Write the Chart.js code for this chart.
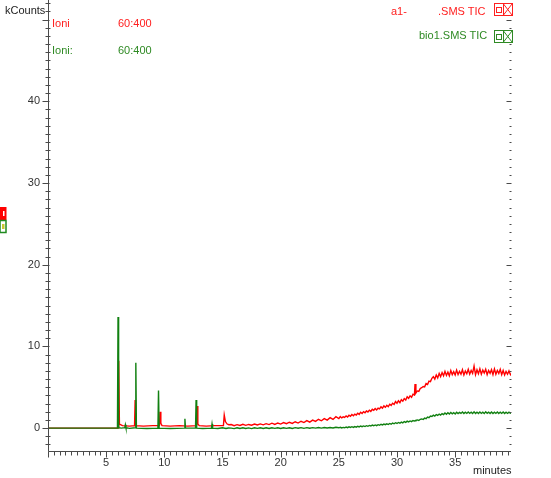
<!DOCTYPE html>
<html>
<head>
<meta charset="utf-8">
<script src="https://cdn.jsdelivr.net/npm/chart.js@4/dist/chart.umd.min.js"></script>
<style>
  html, body { margin: 0; padding: 0; background: #fff; }
  #wrap { position: relative; width: 551px; height: 478px; overflow: hidden; font-family: "Liberation Sans", Arial, sans-serif; font-size: 11px; }
  canvas { position: absolute; left: 0; top: 0; }
  .t { position: absolute; white-space: nowrap; line-height: 12px; }
  .red { color: #ff2020; }
  .grn { color: #2f8a24; }
</style>
</head>
<body>
<div id="wrap">
  <canvas id="c" width="551" height="478"></canvas>
  <div class="t" style="left:5px;top:4px;color:#222;">kCounts</div>
  <div class="t red" style="left:52px;top:17px;">Ioni</div>
  <div class="t red" style="left:118px;top:17px;">60:400</div>
  <div class="t grn" style="left:52px;top:44px;">Ioni:</div>
  <div class="t grn" style="left:118px;top:44px;">60:400</div>
  <div class="t red" style="left:391px;top:5px;">a1-</div>
  <div class="t red" style="left:438px;top:5px;">.SMS TIC</div>
  <div class="t grn" style="left:419px;top:29px;">bio1.SMS TIC</div>
  <div class="t" style="left:473px;top:464px;color:#222;">minutes</div>
  <svg style="position:absolute;left:493px;top:3px;" width="21" height="14">
    <rect x="1.5" y="0.5" width="18" height="12" fill="#fff" stroke="#ff2020"/>
    <rect x="3.5" y="4.5" width="5" height="5" fill="none" stroke="#ff2020"/>
    <line x1="10.5" y1="0.5" x2="10.5" y2="12.5" stroke="#ff2020"/>
    <line x1="10.5" y1="1" x2="19" y2="12" stroke="#ff2020"/>
    <line x1="19" y1="1" x2="10.5" y2="12" stroke="#ff2020"/>
  </svg>
  <svg style="position:absolute;left:493px;top:30px;" width="21" height="14">
    <rect x="1.5" y="0.5" width="18" height="12" fill="#fff" stroke="#2f8a24"/>
    <rect x="3.5" y="4.5" width="5" height="5" fill="none" stroke="#2f8a24"/>
    <line x1="10.5" y1="0.5" x2="10.5" y2="12.5" stroke="#2f8a24"/>
    <line x1="10.5" y1="1" x2="19" y2="12" stroke="#2f8a24"/>
    <line x1="19" y1="1" x2="10.5" y2="12" stroke="#2f8a24"/>
  </svg>
  <svg style="position:absolute;left:0px;top:207px;" width="8" height="28">
    <rect x="0" y="0" width="6.5" height="13" fill="#ff0000"/>
    <rect x="3" y="4" width="1.5" height="5" fill="#fff"/>
    <rect x="0" y="13.5" width="6" height="12" fill="#fff" stroke="#1f8a1f" stroke-width="1.5"/>
    <rect x="2" y="17" width="2.5" height="5" fill="#c8c832"/>
  </svg>
</div>
<script>
// ---------------- data ----------------
const greenEarlyTimes  = [0, 5.97, 6.02, 6.07, 6.3, 6.6, 6.65, 6.7, 7.0, 7.5, 7.55, 7.6, 8.5, 9.45, 9.5, 9.55, 10.5, 11.72, 11.77, 11.82, 12.68, 12.73, 12.78, 13.3, 14.05, 14.1, 14.15, 14.6, 15.0, 15.3, 15.5];
const greenEarlyValues = [0, 0, 13.6, 0.05, 0.0, 0.05, 0.4, 0.05, -0.03, 0.05, 8.0, 0.0, -0.05, 0.0, 4.6, 0.0, -0.05, 0.0, 1.15, 0.0, 0.0, 3.45, 0.0, -0.05, 0.0, 0.5, 0.0, -0.05, 0.05, -0.05, 0.02];

const redEarlyTimes  = [0, 6.03, 6.08, 6.14, 6.4, 7.0, 7.44, 7.49, 7.54, 8.2, 9.0, 9.58, 9.63, 9.7, 9.8, 10.5, 11.3, 12.0, 12.77, 12.82, 12.88, 13.0, 13.6, 14.3, 15.08, 15.15, 15.25, 15.4, 15.55];
const redEarlyValues = [0, 0, 8.25, 0.5, 0.3, 0.25, 0.3, 3.45, 0.3, 0.25, 0.3, 0.3, 2.0, 0.6, 0.3, 0.25, 0.3, 0.25, 0.3, 2.7, 0.5, 0.3, 0.25, 0.3, 0.3, 1.6, 0.8, 0.5, 0.42];

const lateTimes = [15.75, 16, 16.25, 16.5, 16.75, 17, 17.25, 17.5, 17.75, 18,
  18.25, 18.5, 18.75, 19, 19.25, 19.5, 19.75, 20, 20.25, 20.5,
  20.75, 21, 21.25, 21.5, 21.75, 22, 22.25, 22.5, 22.75, 23,
  23.25, 23.5, 23.75, 24, 24.25, 24.5, 24.75, 25,
  25.125, 25.25, 25.375, 25.5, 25.625, 25.75, 25.875, 26,
  26.125, 26.25, 26.375, 26.5, 26.625, 26.75, 26.875, 27,
  27.125, 27.25, 27.375, 27.5, 27.625, 27.75, 27.875, 28,
  28.125, 28.25, 28.375, 28.5, 28.625, 28.75, 28.875, 29,
  29.125, 29.25, 29.375, 29.5, 29.625, 29.75, 29.875, 30,
  30.125, 30.25, 30.375, 30.5, 30.625, 30.75, 30.875, 31,
  31.125, 31.25, 31.375, 31.5, 31.55, 31.625, 31.75, 31.875, 32,
  32.125, 32.25, 32.375, 32.5, 32.625, 32.75, 32.875, 33,
  33.125, 33.25, 33.375, 33.5, 33.625, 33.75, 33.875, 34,
  34.125, 34.25, 34.375, 34.5, 34.625, 34.75, 34.875, 35,
  35.125, 35.25, 35.375, 35.5, 35.625, 35.75, 35.875, 36,
  36.125, 36.25, 36.375, 36.5, 36.625, 36.75, 36.875, 37,
  37.125, 37.25, 37.375, 37.5, 37.625, 37.75, 37.875, 38,
  38.125, 38.25, 38.375, 38.5, 38.625, 38.75, 38.875, 39,
  39.125, 39.25, 39.375, 39.5, 39.625, 39.75, 39.8];

const redLateValues = [0.44, 0.30, 0.42, 0.33, 0.46, 0.34, 0.45, 0.36, 0.50, 0.38,
  0.52, 0.40, 0.55, 0.43, 0.60, 0.46, 0.63, 0.50, 0.68, 0.54,
  0.72, 0.58, 0.78, 0.62, 0.84, 0.68, 0.92, 0.74, 0.98, 0.82,
  1.08, 0.90, 1.16, 0.98, 1.28, 1.06, 1.40, 1.16,
  1.42, 1.25, 1.38, 1.30, 1.50, 1.36, 1.58, 1.45,
  1.66, 1.52, 1.72, 1.60, 1.82, 1.68, 1.95, 1.80,
  2.02, 1.88, 2.10, 1.98, 2.20, 2.05, 2.30, 2.18,
  2.40, 2.22, 2.45, 2.35, 2.60, 2.45, 2.72, 2.55,
  2.80, 2.62, 2.92, 2.78, 3.05, 2.90, 3.25, 3.05,
  3.35, 3.12, 3.48, 3.30, 3.62, 3.45, 3.85, 3.65,
  3.95, 3.78, 4.15, 4.05, 5.40, 4.30, 4.55, 4.50, 4.85,
  4.95, 5.10, 5.05, 5.45, 5.35, 5.75, 5.70, 6.10,
  6.30, 6.00, 6.50, 6.15, 6.70, 6.30, 6.80, 6.40,
  6.95, 6.45, 6.85, 6.40, 7.05, 6.55, 6.90, 6.50,
  7.10, 6.55, 6.95, 6.60, 7.15, 6.50, 7.00, 6.65,
  7.20, 6.60, 7.05, 6.70, 7.60, 6.55, 7.15, 6.65,
  7.25, 6.60, 7.10, 6.75, 7.20, 6.55, 7.05, 6.70,
  7.15, 6.55, 7.25, 6.60, 7.05, 6.70, 7.20, 6.55,
  7.05, 6.50, 6.95, 6.60, 7.00, 6.55, 6.70];

const greenLateValues = [0.00, -0.06, 0.04, -0.04, 0.05, -0.05, 0.03, -0.06, 0.04, -0.03,
  0.05, -0.04, 0.04, -0.05, 0.05, -0.03, 0.04, -0.04, 0.05, -0.03,
  0.05, -0.04, 0.06, -0.02, 0.06, -0.03, 0.06, -0.02, 0.06, 0.00,
  0.07, 0.00, 0.08, 0.01, 0.08, 0.02, 0.10, 0.04,
  0.10, 0.02, 0.09, 0.04, 0.13, 0.05, 0.15, 0.08,
  0.17, 0.09, 0.19, 0.12, 0.23, 0.15, 0.26, 0.18,
  0.27, 0.19, 0.30, 0.22, 0.33, 0.26, 0.37, 0.29,
  0.39, 0.30, 0.42, 0.35, 0.47, 0.39, 0.50, 0.42,
  0.53, 0.44, 0.57, 0.48, 0.62, 0.53, 0.66, 0.57,
  0.69, 0.60, 0.74, 0.64, 0.80, 0.70, 0.85, 0.76,
  0.88, 0.80, 0.93, 0.86, 0.90, 0.95, 1.00, 0.94, 1.08,
  1.12, 1.05, 1.22, 1.15, 1.35, 1.28, 1.48, 1.42,
  1.58, 1.48, 1.66, 1.55, 1.72, 1.60, 1.78, 1.66,
  1.85, 1.70, 1.88, 1.72, 1.92, 1.76, 1.90, 1.74,
  1.95, 1.78, 1.93, 1.80, 1.97, 1.78, 1.95, 1.80,
  1.98, 1.80, 1.95, 1.78, 2.00, 1.80, 1.96, 1.79,
  1.98, 1.80, 1.95, 1.78, 1.99, 1.81, 1.96, 1.78,
  1.97, 1.79, 1.95, 1.80, 1.98, 1.78, 1.96, 1.80,
  1.97, 1.79, 1.95, 1.80, 1.96, 1.82, 1.86];

const xTickLabels = [5, 10, 15, 20, 25, 30, 35];
const yTickLabels = [0, 10, 20, 30, 40];
const xRange = [0, 39.8];
const yRange = [-2.8, 52.4];
// ---------------------------------------------------------------

function pts(times, values) { return times.map((t, i) => ({ x: t, y: values[i] })); }
const greenData = pts(greenEarlyTimes, greenEarlyValues).concat(pts(lateTimes, greenLateValues));
const redData = pts(redEarlyTimes, redEarlyValues).concat(pts(lateTimes, redLateValues));

const axisPlugin = {
  id: 'axisTicks',
  afterDraw(chart) {
    const ctx = chart.ctx, xs = chart.scales.x, ys = chart.scales.y, ca = chart.chartArea;
    const L = Math.round(ca.left) + 0.5, B = Math.round(ca.bottom) + 0.5, R = Math.round(ca.right) - 0.5;
    ctx.save();
    ctx.strokeStyle = '#4a4a4a';
    ctx.lineWidth = 1;
    ctx.beginPath();
    ctx.moveTo(L, Math.round(ca.top)); ctx.lineTo(L, B);
    ctx.lineTo(Math.round(ca.right), B);
    ctx.stroke();
    ctx.beginPath();
    for (let v = -2; v <= 52; v++) {
      const y = Math.round(ys.getPixelForValue(v)) + 0.5;
      if (v % 10 === 0) { ctx.moveTo(L - 6, y); ctx.lineTo(L + 1, y); }
      else { ctx.moveTo(L - 3, y); ctx.lineTo(L + 2, y); }
      if (v % 10 === 0) { ctx.moveTo(R - 4, y); ctx.lineTo(R + 1, y); }
      else { ctx.moveTo(R - 1, y); ctx.lineTo(R + 1, y); }
    }
    for (let k = 0; k <= 79; k++) {
      const v = k / 2;
      const x = Math.round(xs.getPixelForValue(v)) + 0.5;
      if (k % 10 === 0) { ctx.moveTo(x, B); ctx.lineTo(x, B + 6); }
      else { ctx.moveTo(x, B); ctx.lineTo(x, B + 4); }
    }
    ctx.stroke();
    ctx.restore();
  }
};

new Chart(document.getElementById('c'), {
  type: 'line',
  data: {
    datasets: [
      { label: 'bio1.SMS TIC', data: greenData, borderColor: '#118011', borderWidth: 1.4, pointRadius: 0, tension: 0, fill: false },
      { label: 'a1-.SMS TIC', data: redData, borderColor: '#ff0000', borderWidth: 1.4, pointRadius: 0, tension: 0, fill: false }
    ]
  },
  options: {
    responsive: false,
    animation: false,
    devicePixelRatio: 1,
    layout: { padding: { left: 0, right: 40, top: 0, bottom: 0 } },
    plugins: { legend: { display: false }, tooltip: { enabled: false } },
    scales: {
      x: {
        type: 'linear', min: xRange[0], max: xRange[1],
        grid: { display: false, drawTicks: false },
        border: { display: false },
        afterBuildTicks: s => { s.ticks = xTickLabels.map(v => ({ value: v })); },
        afterFit: s => { s.height = 27; s.paddingLeft = 0; s.paddingRight = 0; },
        ticks: { color: '#333', padding: 5, maxRotation: 0, autoSkip: false,
                 font: { family: 'Liberation Sans', size: 11 } }
      },
      y: {
        type: 'linear', min: yRange[0], max: yRange[1],
        grid: { display: false, drawTicks: false },
        border: { display: false },
        afterBuildTicks: s => { s.ticks = yTickLabels.map(v => ({ value: v })); },
        afterFit: s => { s.width = 48; s.paddingTop = 0; s.paddingBottom = 0; },
        ticks: { color: '#333', padding: 8, autoSkip: false,
                 font: { family: 'Liberation Sans', size: 11 } }
      }
    }
  },
  plugins: [axisPlugin]
});
</script>
</body>
</html>
